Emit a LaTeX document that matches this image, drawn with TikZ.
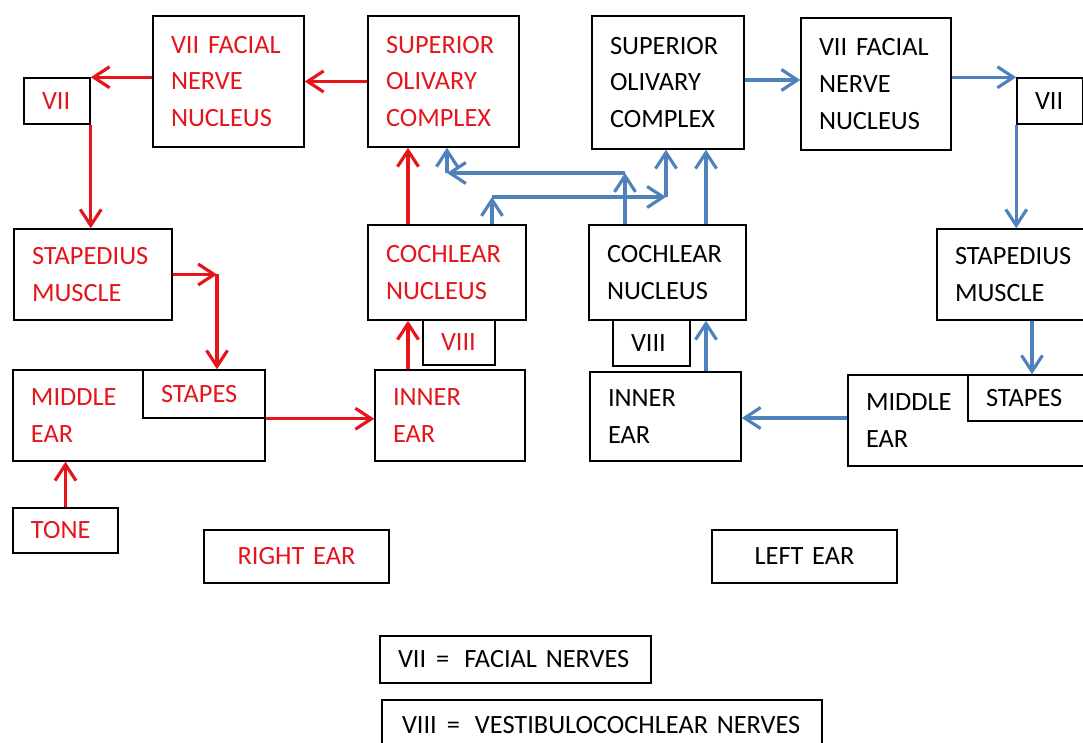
\documentclass[tikz,border=0pt]{standalone}
\usepackage{fontspec}
\setmainfont[WordSpace=0.7]{Carlito}
\usetikzlibrary{arrows.meta}
\definecolor{redtxt}{RGB}{228,22,28}
\definecolor{blueline}{RGB}{79,129,189}
\tikzset{
  box/.style 2 args={draw, line width=0.85pt, minimum width=#1*0.02cm,
    minimum height=#2*0.02cm, text width=(#1-36)*0.02cm, align=left,
    inner sep=0pt, font=\fontsize{15}{21}\selectfont},
  redbox/.style={text=redtxt},
  redarrow/.style={draw=redtxt, line width=1.8pt,
    -{Straight Barb[length=0.32cm,width=0.42cm]}},
  bluearrow/.style={draw=blueline, line width=1.8pt,
    -{Straight Barb[length=0.32cm,width=0.42cm]}}
}
\begin{document}
\begin{tikzpicture}[x=0.02cm,y=-0.02cm]
  \clip (0,0) rectangle (1083,743);
  \useasboundingbox (0,0) rectangle (1083,743);
  \fill[white] (0,0) rectangle (1083,743);

  \node[box={151}{131}, redbox] (vnR) at (228.5,81.5) {VII FACIAL\\NERVE\\NUCLEUS};
  \node[box={151}{131}, redbox] (socR) at (443.5,81.5) {SUPERIOR\\OLIVARY\\COMPLEX};
  \node[box={66}{46}, redbox] (viiR) at (57,101) {VII};
  \node[box={158}{91}, redbox] (stR) at (93,274.5) {STAPEDIUS\\MUSCLE};
  \node[box={252}{91}, redbox] (meR) at (139,415.5) {MIDDLE\\EAR};
  \node[box={122}{48}, redbox] (stapesR) at (204,394) {STAPES};
  \node[box={105}{45}, redbox] (toneR) at (65.5,530.5) {TONE};
  \node[box={185}{53}, redbox, align=center] (rightear) at (296.5,556.5) {RIGHT EAR};
  \node[box={158}{95}, redbox] (cnR) at (447,272.5) {COCHLEAR\\NUCLEUS};
  \node[box={72}{45}, redbox] (viiiR) at (459,342.5) {VIII};
  \node[box={150}{91}, redbox] (ieR) at (450,415.5) {INNER\\EAR};

  \node[box={152}{133}] (socL) at (668,82.5) {SUPERIOR\\OLIVARY\\COMPLEX};
  \node[box={150}{132}] (vnL) at (876,84) {VII FACIAL\\NERVE\\NUCLEUS};
  \node[box={66}{46}] (viiL) at (1050,101) {VII};
  \node[box={158}{91}] (stL) at (1016,274.5) {STAPEDIUS\\MUSCLE};
  \node[box={252}{91}] (meL) at (974,420.5) {MIDDLE\\EAR};
  \node[box={132}{46}] (stapesL) at (1034,398) {STAPES};
  \node[box={157}{95}] (cnL) at (667.5,272.5) {COCHLEAR\\NUCLEUS};
  \node[box={77}{46}] (viiiL) at (651.5,343) {VIII};
  \node[box={151}{89}] (ieL) at (665.5,416.5) {INNER\\EAR};
  \node[box={185}{53}, align=center] (leftear) at (804.5,556.5) {LEFT EAR};

  \node[box={271}{47}] (legvii) at (515.5,659.5) {\mbox{VII\hspace{0.2cm}=\hspace{0.3cm}FACIAL NERVES}};
  \node[box={440}{50}, text width=400*0.02cm] (legviii) at (602,725) {\mbox{VIII\hspace{0.2cm}=\hspace{0.3cm}VESTIBULOCOCHLEAR NERVES}};

  \coordinate (xa) at (408,0);
  \coordinate (xb) at (492,0);
  \coordinate (xc) at (447,0);
  \coordinate (xd) at (625,0);
  \coordinate (xe) at (666,0);
  \coordinate (xf) at (706,0);
  \coordinate (xg) at (217,0);
  \coordinate (xh) at (1032,0);
  \coordinate (ya) at (0,173);
  \coordinate (yb) at (0,197);
  \coordinate (yc) at (0,418);
  \coordinate (yd) at (0,80);

  \draw[redarrow] (socR.west) -- (vnR.east);
  \draw[redarrow] (vnR.west |- viiR.north) -- (viiR.north east);
  \draw[redarrow] (viiR.south east) -- (viiR.south east |- stR.north);
  \draw[redarrow] (stR.east) -- (stR.east -| xg);
  \draw[redarrow] (stR.east -| xg) -- (stapesR.north -| xg);
  \draw[redarrow] (toneR.north) -- (toneR.north |- meR.south);
  \draw[redarrow] (stapesR.south east) -- (stapesR.south east -| ieR.west);
  \draw[redarrow] (ieR.north -| xa) -- (cnR.south -| xa);
  \draw[redarrow] (cnR.north -| xa) -- (socR.south -| xa);

  \draw[bluearrow] (socL.east |- yd) -- (vnL.west |- yd);
  \draw[bluearrow] (vnL.east |- viiL.north) -- (viiL.north west);
  \draw[bluearrow] (viiL.south west) -- (viiL.south west |- stL.north);
  \draw[bluearrow] (stL.south -| xh) -- (stapesL.north -| xh);
  \draw[bluearrow] (meL.west |- yc) -- (ieL.east |- yc);
  \draw[bluearrow] (ieL.north -| xf) -- (cnL.south -| xf);
  \draw[bluearrow] (cnL.north -| xf) -- (socL.south -| xf);
  \draw[bluearrow] (cnL.north -| xd) -- (xd |- ya);
  \draw[bluearrow] (xd |- ya) -- (xc |- ya);
  \draw[bluearrow] (xc |- ya) -- (socR.south -| xc);
  \draw[bluearrow] (cnR.north -| xb) -- (xb |- yb);
  \draw[bluearrow] (xb |- yb) -- (xe |- yb);
  \draw[bluearrow] (xe |- yb) -- (socL.south -| xe);
\end{tikzpicture}
\end{document}
